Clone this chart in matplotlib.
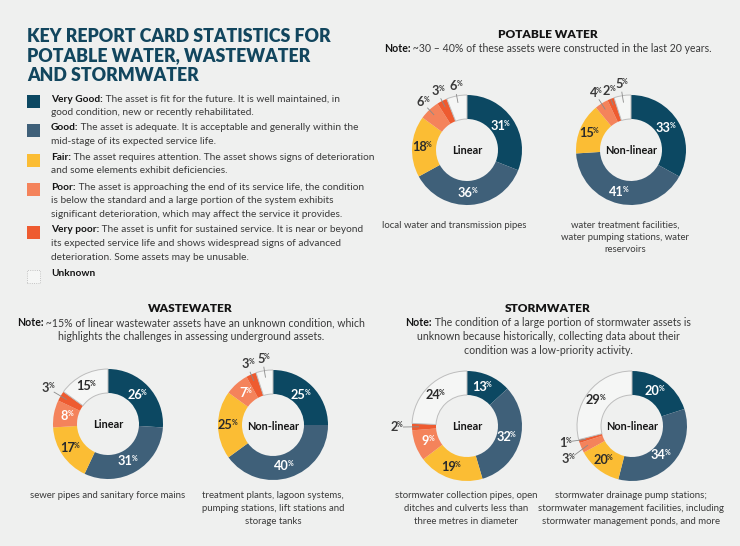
import matplotlib
matplotlib.use('Agg')
import matplotlib.pyplot as plt
import numpy as np
from matplotlib.patches import Rectangle

W, H = 740, 546
BG = '#eff0ef'
FONT = ['Lato', 'DejaVu Sans']
plt.rcParams['font.family'] = FONT

# ---------------- data ----------------
conditions = ['Very Good', 'Good', 'Fair', 'Poor', 'Very poor', 'Unknown']
colors = ['#0c4862', '#3f6079', '#fbbd34', '#f4835b', '#ee5b30', '#f5f6f5']

potable_linear = [31, 36, 18, 6, 3, 6]
potable_nonlinear = [33, 41, 15, 4, 2, 5]
waste_linear = [26, 31, 17, 8, 3, 15]
waste_nonlinear = [25, 40, 20, 7, 3, 5]          # arc sizes as drawn
waste_nonlinear_labels = [25, 40, 25, 7, 3, 5]   # printed labels
storm_linear = [13, 32, 19, 9, 2, 24]
storm_nonlinear = [20, 34, 13, 3, 1, 29]         # arc sizes as drawn
storm_nonlinear_labels = [20, 34, 20, 3, 1, 29]  # printed labels

title_lines = ['KEY REPORT CARD STATISTICS FOR',
               'POTABLE WATER, WASTEWATER',
               'AND STORMWATER']

legend_items = [
    ('Very Good:', ['The asset is fit for the future. It is well maintained, in',
                    'good condition, new or recently rehabilitated.']),
    ('Good:', ['The asset is adequate. It is acceptable and generally within the',
               'mid-stage of its expected service life.']),
    ('Fair:', ['The asset requires attention. The asset shows signs of deterioration',
               'and some elements exhibit deficiencies.']),
    ('Poor:', ['The asset is approaching the end of its service life, the condition',
               'is below the standard and a large portion of the system exhibits',
               'significant deterioration, which may affect the service it provides.']),
    ('Very poor:', ['The asset is unfit for sustained service. It is near or beyond',
                    'its expected service life and shows widespread signs of advanced',
                    'deterioration. Some assets may be unusable.']),
    ('Unknown', []),
]

# ---------------- figure ----------------
fig = plt.figure(figsize=(W / 100, H / 100), dpi=100)
fig.patch.set_facecolor(BG)
ax = fig.add_axes([0, 0, 1, 1])
ax.set_facecolor(BG)
renderer = fig.canvas.get_renderer()

TXT = '#3a3a3a'
DARK = '#141414'
BODY = 7.3
NOTE = 7.6
CAP = 6.9


def T(x, y, s, **kw):
    kw.setdefault('fontsize', BODY)
    kw.setdefault('color', TXT)
    kw.setdefault('va', 'center')
    return ax.text(x, H - y, s, **kw)


def rich(parts, x, y, ha='left', size=BODY):
    objs, widths = [], []
    for s, wt, col in parts:
        o = ax.text(0, 0, s, fontsize=size, fontweight=wt, color=col, va='center', ha='left')
        widths.append(o.get_window_extent(renderer=renderer).width)
        objs.append(o)
    total = sum(widths)
    x0 = x - total / 2 if ha == 'center' else x
    for o, w in zip(objs, widths):
        o.set_position((x0, H - y))
        x0 += w


# title
for i, line in enumerate(title_lines):
    ax.text(27, H - (42 + i * 19.3), line, fontsize=12.8, fontweight='heavy',
            color='#12465e', va='baseline', ha='left')

# legend
sq_y = [101, 130, 160, 189, 232, 276]
first_line_y = [99, 128, 157, 187, 230, 273]
for k, (lab, lines) in enumerate(legend_items):
    cy = sq_y[k]
    if k == 5:
        ax.add_patch(Rectangle((27, H - cy - 6.5), 13, 13, facecolor=colors[5],
                               edgecolor='#b5b5b5', lw=0.6, ls=':'))
    else:
        ax.add_patch(Rectangle((27, H - cy - 6.5), 13, 13, facecolor=colors[k], lw=0))
    y0 = first_line_y[k]
    if lines:
        rich([(lab, 'bold', DARK), (' ' + lines[0], 'normal', TXT)], 51, y0)
        for j, l in enumerate(lines[1:]):
            T(51, y0 + 13.6 * (j + 1), l)
    else:
        T(51, y0, lab, fontweight='bold', color=DARK)

# section headings and notes
T(548, 34, 'POTABLE WATER', fontsize=8.6, fontweight='heavy', color=DARK, ha='center')
rich([('Note:', 'bold', DARK), (' ~30 \u2013 40% of these assets were constructed in the last 20 years.', 'normal', TXT)], 548, 49, ha='center', size=NOTE)

T(190, 309, 'WASTEWATER', fontsize=8.6, fontweight='heavy', color=DARK, ha='center')
rich([('Note:', 'bold', DARK), (' ~15% of linear wastewater assets have an unknown condition, which', 'normal', TXT)], 191, 323, ha='center', size=NOTE)
T(191, 336, 'highlights the challenges in assessing underground assets.', ha='center', fontsize=NOTE)

T(548, 309, 'STORMWATER', fontsize=8.6, fontweight='heavy', color=DARK, ha='center')
rich([('Note:', 'bold', DARK), (' The condition of a large portion of stormwater assets is', 'normal', TXT)], 548, 323, ha='center', size=NOTE)
T(548, 337, 'unknown because historically, collecting data about their', ha='center', fontsize=NOTE)
T(548, 350, 'condition was a low-priority activity.', ha='center', fontsize=NOTE)

# donuts
R, RW = 55, 24
# outside labels: index -> (label radius, angle nudge in degrees)
charts = [
    (potable_linear, potable_linear, 467, 150, 'Linear',
     {3: (66, 0), 4: (66, 0), 5: (65, 0)},
     ['local water and transmission pipes'], 454, 225),
    (potable_nonlinear, potable_nonlinear, 631, 150, 'Non-linear',
     {3: (68, 0), 4: (63, 0), 5: (67, 0)},
     ['water treatment facilities,', 'water pumping stations, water', 'reservoirs'], 625, 225),
    (waste_linear, waste_linear, 108, 424, 'Linear', {4: (71, 0)},
     ['sewer pipes and sanitary force mains'], 108, 496),
    (waste_nonlinear, waste_nonlinear_labels, 273, 425, 'Non-linear',
     {4: (66, 0), 5: (67, 0)},
     ['treatment plants, lagoon systems,', 'pumping stations, lift stations and', 'storage tanks'], 273, 496),
    (storm_linear, storm_linear, 467, 426, 'Linear', {4: (72, 0)},
     ['stormwater collection pipes, open', 'ditches and culverts less than', 'three metres in diameter'], 466, 496),
    (storm_nonlinear, storm_nonlinear_labels, 632, 426, 'Non-linear',
     {3: (73, 3.5), 4: (70, -2.0)},
     ['stormwater drainage pump stations;', 'stormwater management facilities, including', 'stormwater management ponds, and more'], 631, 496),
]

label_colors = ['white', 'white', '#2b2b2b', 'white', 'white', '#2b2b2b']

for vals, labs, cx, cy, ctext, outside, cap, capx, capy in charts:
    wedges, _ = ax.pie(vals, colors=colors, startangle=90, counterclock=False,
                       radius=R, center=(cx, H - cy),
                       wedgeprops=dict(width=RW, linewidth=0))
    wu = wedges[5]
    wu.set_edgecolor('#bdbdbd')
    wu.set_linewidth(0.7)
    for i, w in enumerate(wedges):
        mid = np.deg2rad((w.theta1 + w.theta2) / 2)
        if i in outside:
            rl, nudge = outside[i]
            x1, y1 = cx + (R - 7) * np.cos(mid), (H - cy) + (R - 7) * np.sin(mid)
            lm = mid + np.deg2rad(nudge)
            x2, y2 = cx + (rl - 8) * np.cos(lm), (H - cy) + (rl - 8) * np.sin(lm)
            ax.plot([x1, x2], [y1, y2], color='#8a8a8a', lw=0.6, solid_capstyle='butt')
            lx, ly = cx + rl * np.cos(lm), (H - cy) + rl * np.sin(lm)
            col = '#3a3a3a'
        else:
            rm = R - RW / 2
            lx, ly = cx + rm * np.cos(mid), (H - cy) + rm * np.sin(mid)
            col = label_colors[i]
        ax.text(lx + 2.5, ly, str(labs[i]), fontsize=9.2, fontweight='bold', color=col,
                ha='right', va='center')
        ax.text(lx + 1.6, ly + 2.5, '%', fontsize=5.0, fontweight='bold', color=col,
                ha='left', va='center')
    ax.text(cx, H - cy - 1, ctext, fontsize=7.8, fontweight='bold', color=DARK,
            ha='center', va='center')
    for j, l in enumerate(cap):
        T(capx, capy + 12.5 * j, l, ha='center', fontsize=CAP)

ax.set_xlim(0, W)
ax.set_ylim(0, H)
ax.set_aspect('auto')
ax.axis('off')

fig.savefig('out.png', dpi=100, facecolor=BG)
